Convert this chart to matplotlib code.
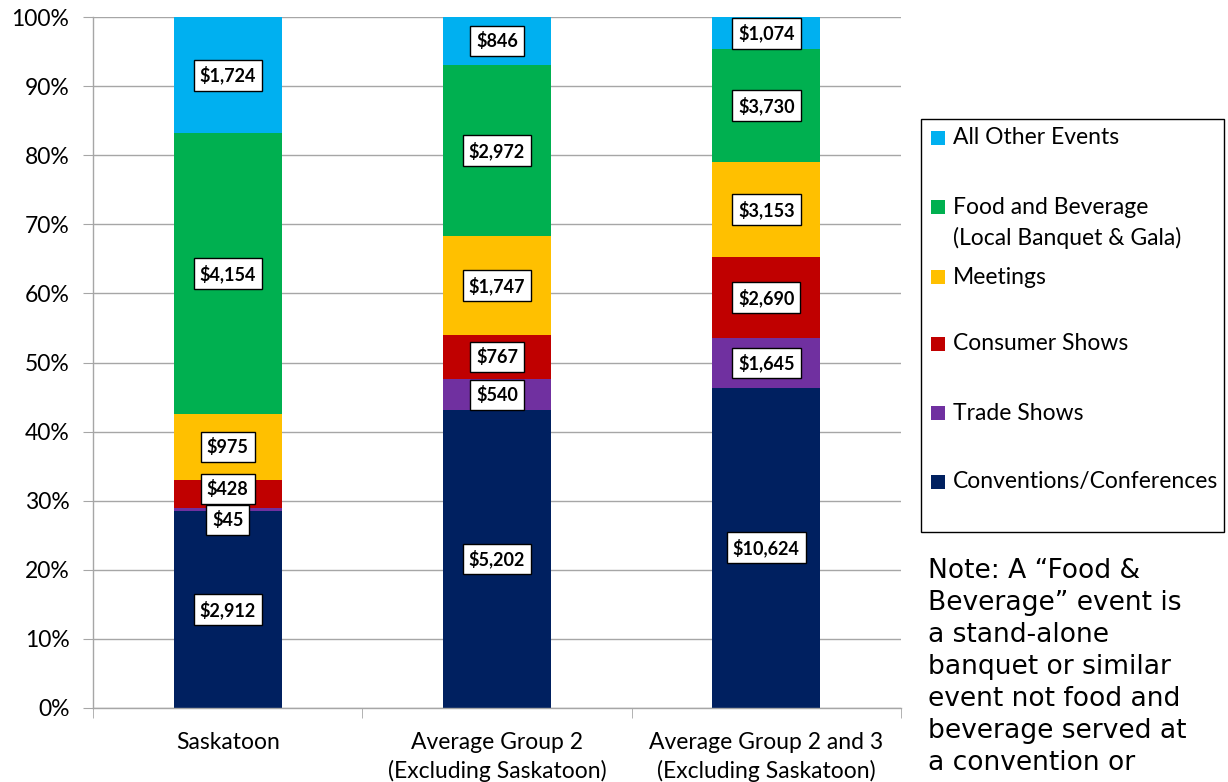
import matplotlib
matplotlib.use("Agg")
import matplotlib.pyplot as plt
from matplotlib.patches import Rectangle
import numpy as np

categories = ["Saskatoon", "Average Group 2\n(Excluding Saskatoon)",
              "Average Group 2 and 3\n(Excluding Saskatoon)"]
series_names = ["Conventions/Conferences", "Trade Shows", "Consumer Shows",
                "Meetings", "Food and Beverage\n(Local Banquet & Gala)",
                "All Other Events"]
conventions = [2912, 5202, 10624]
trade_shows = [45, 540, 1645]
consumer_shows = [428, 767, 2690]
meetings = [975, 1747, 3153]
food_beverage = [4154, 2972, 3730]
all_other = [1724, 846, 1074]
colors = ["#002060", "#7030A0", "#C00000", "#FFC000", "#00B050", "#00B0F0"]
y_ticks = [0, 10, 20, 30, 40, 50, 60, 70, 80, 90, 100]
note_lines = ["Note: A \u201cFood &", "Beverage\u201d event is", "a stand-alone",
              "banquet or similar", "event not food and", "beverage served at",
              "a convention or"]

series = [conventions, trade_shows, consumer_shows, meetings, food_beverage, all_other]
data = np.array(series, dtype=float)
totals = data.sum(axis=0)
pct = data / totals * 100

# label offsets (points) where labels were nudged to avoid overlap
offsets = {(0, 1): -7.0, (0, 2): 3.6}

FONT = "Lato"
GRID = "#A6A6A6"

fig = plt.figure(figsize=(12.28, 7.82), dpi=100)
ax = fig.add_axes([93 / 1228, 1 - 708 / 782, (901 - 93) / 1228, (708 - 17) / 782])

x = np.arange(len(categories))
bottom = np.zeros(len(categories))
for i, (vals, c) in enumerate(zip(pct, colors)):
    ax.bar(x, vals, bottom=bottom, width=0.4, color=c, linewidth=0, zorder=2)
    for j in range(len(categories)):
        yc = bottom[j] + vals[j] / 2
        ax.annotate(f"${int(data[i, j]):,}", (x[j], yc),
                    xytext=(0, offsets.get((j, i), 0)), textcoords="offset points",
                    ha="center", va="center", fontsize=13, fontweight="bold",
                    family=FONT, zorder=5,
                    bbox=dict(boxstyle="square,pad=0.33", fc="white", ec="black", lw=1.0))
    bottom += vals

ax.set_xlim(-0.5, 2.5)
ax.set_ylim(0, 100)
ax.set_yticks(y_ticks)
ax.set_yticklabels([f"{t}%" for t in y_ticks], fontsize=16.5, family=FONT)
ax.yaxis.grid(True, color=GRID, lw=1.0, zorder=0)
ax.set_axisbelow(True)
ax.tick_params(axis="y", length=7, color=GRID, pad=10)

ax.set_xticks(x)
ax.set_xticklabels(categories, fontsize=16.5, family=FONT, linespacing=1.4)
ax.set_xticks([-0.5, 0.5, 1.5, 2.5], minor=True)
ax.tick_params(axis="x", which="major", length=0, pad=17)
ax.tick_params(axis="x", which="minor", length=7, color=GRID)

for s in ["top", "right"]:
    ax.spines[s].set_visible(False)
for s in ["left", "bottom"]:
    ax.spines[s].set_color(GRID)
    ax.spines[s].set_linewidth(1.0)

# legend drawn manually in figure pixel coordinates
W, H = 1228, 782
fig.patches.append(Rectangle((921 / W, 1 - 532 / H), (1224 - 921) / W, (532 - 119) / H,
                             transform=fig.transFigure, fill=False, ec="black", lw=1.0))
legend_rows = [138, 207, 277, 344, 413, 482]
for k, yrow in enumerate(legend_rows):
    idx = len(series_names) - 1 - k
    fig.patches.append(Rectangle((931 / W, 1 - (yrow + 7) / H), 14 / W, 14 / H,
                                 transform=fig.transFigure, fc=colors[idx], ec="none"))
    for m, line in enumerate(series_names[idx].split("\n")):
        fig.text(953 / W, 1 - (yrow + 31 * m) / H, line, family=FONT, fontsize=16.5,
                 va="center", ha="left")

for m, line in enumerate(note_lines):
    fig.text(928 / W, 1 - (571 + 32 * m) / H, line, family="DejaVu Sans",
             fontsize=19.1, va="center", ha="left")

fig.savefig("out.png", dpi=100)
